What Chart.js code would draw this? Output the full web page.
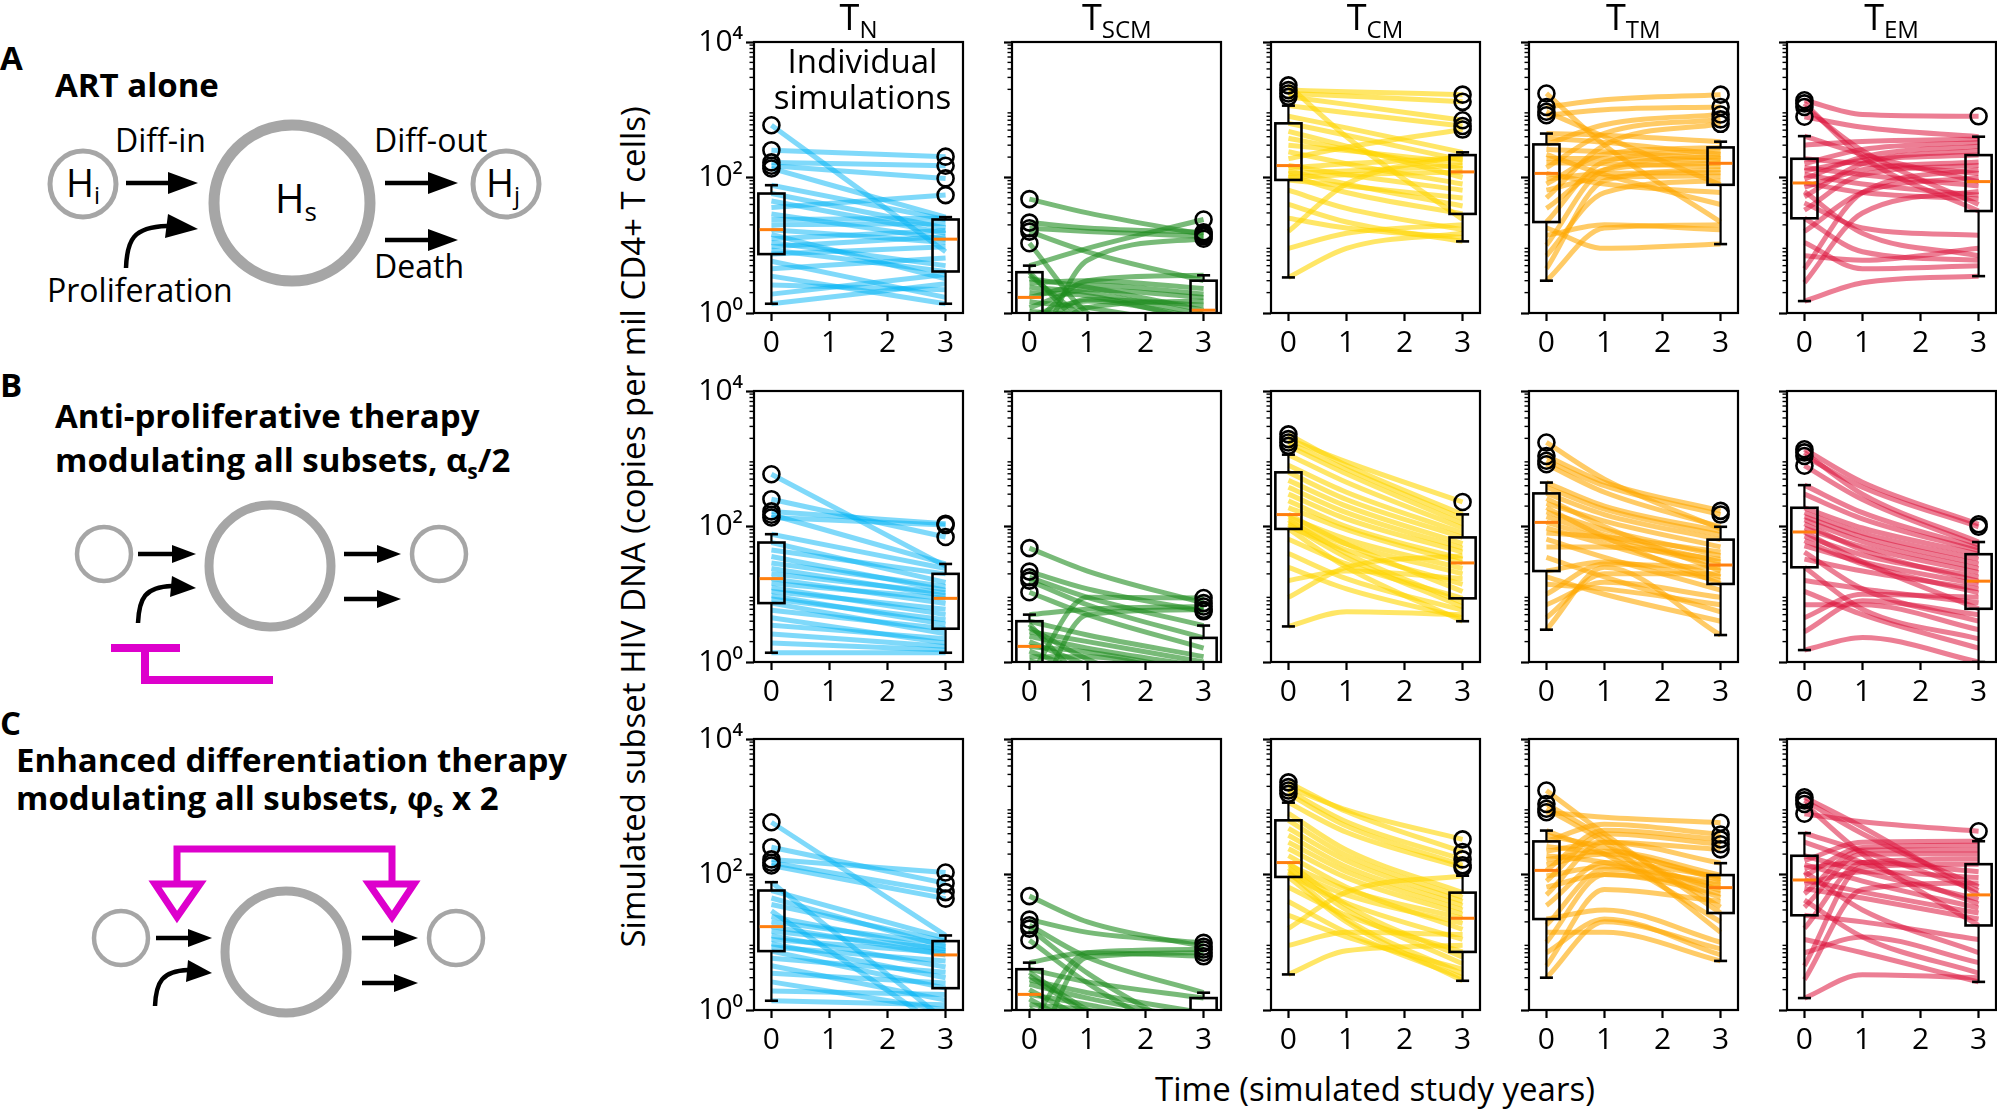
<!DOCTYPE html>
<html>
<head>
<meta charset="utf-8">
<script src="https://cdn.jsdelivr.net/npm/chart.js@4.4.1/dist/chart.umd.min.js"></script>
<style>
body { margin: 0; background: #fff; }
#page { position: relative; width: 1997px; height: 1112px; overflow: hidden; font-family: 'Open Sans', sans-serif; color: #000; }
#page canvas { position: absolute; }
.ptitle { position: absolute; text-align: center; font-size: 36px; line-height: 1; }
.ptitle sub { font-size: 24px; vertical-align: baseline; position: relative; top: 0.33em; }
.note { position: absolute; text-align: center; font-size: 33px; line-height: 36px; }
.axlabel { position: absolute; font-size: 33px; line-height: 1; white-space: nowrap; text-align: center; }
svg text { font-family: 'Open Sans', sans-serif; }
</style>
</head>
<body>
<div id="page">
<svg width="640" height="1112" style="position:absolute;left:0;top:0">
  <g fill="#000">
    <text x="0" y="70" font-size="33" font-weight="700">A</text>
    <text x="55" y="97" font-size="33" font-weight="700">ART alone</text>
    <text x="0" y="397" font-size="33" font-weight="700">B</text>
    <text x="55" y="428" font-size="33" font-weight="700">Anti-proliferative therapy</text>
    <text x="55" y="472" font-size="33" font-weight="700">modulating all subsets, α<tspan font-size="21" dy="7">s</tspan><tspan dy="-7">/2</tspan></text>
    <text x="0" y="735" font-size="33" font-weight="700">C</text>
    <text x="16" y="772" font-size="33" font-weight="700">Enhanced differentiation therapy</text>
    <text x="16" y="810" font-size="33" font-weight="700">modulating all subsets, φ<tspan font-size="21" dy="7">s</tspan><tspan dy="-7"> x 2</tspan></text>

    <text x="115" y="152" font-size="32">Diff-in</text>
    <text x="47" y="302" font-size="32">Proliferation</text>
    <text x="374" y="152" font-size="32">Diff-out</text>
    <text x="374" y="278" font-size="32">Death</text>
    <text x="83" y="197" font-size="38" text-anchor="middle">H<tspan font-size="24" dy="7">i</tspan></text>
    <text x="296" y="213" font-size="40" text-anchor="middle">H<tspan font-size="26" dy="8">s</tspan></text>
    <text x="503" y="197" font-size="38" text-anchor="middle">H<tspan font-size="24" dy="7">j</tspan></text>
  </g>
  <g fill="none" stroke="#a6a6a6">
    <circle cx="83" cy="184" r="33" stroke-width="5"/>
    <circle cx="292" cy="203" r="78" stroke-width="11"/>
    <circle cx="506" cy="184" r="33" stroke-width="5"/>
    <circle cx="104" cy="554" r="27" stroke-width="4.5"/>
    <circle cx="270" cy="566" r="61" stroke-width="9"/>
    <circle cx="439" cy="554" r="27" stroke-width="4.5"/>
    <circle cx="121" cy="938" r="27" stroke-width="4.5"/>
    <circle cx="286" cy="952" r="61" stroke-width="9"/>
    <circle cx="456" cy="938" r="27" stroke-width="4.5"/>
  </g>
  <g stroke="#000" stroke-width="4.5" fill="none">
    <line x1="126" y1="183" x2="172" y2="183"/>
    <path d="M126,268 C127,240 133,227 167,226"/>
    <line x1="385" y1="183" x2="430" y2="183"/>
    <line x1="385" y1="240" x2="430" y2="240"/>
    <line x1="138" y1="554" x2="176" y2="554"/>
    <path d="M138,623 C139,598 145,587 172,586"/>
    <line x1="344" y1="554" x2="380" y2="554"/>
    <line x1="344" y1="599" x2="380" y2="599"/>
    <line x1="156" y1="938" x2="190" y2="938"/>
    <path d="M155,1006 C156,982 162,971 188,970"/>
    <line x1="362" y1="938" x2="396" y2="938"/>
    <line x1="362" y1="983" x2="396" y2="983"/>
  </g>
  <g fill="#000">
    <polygon points="168,172 198,183 168,194"/>
    <polygon points="168,214 198,229 165,238"/>
    <polygon points="428,172 458,183 428,194"/>
    <polygon points="428,229 458,240 428,251"/>
    <polygon points="172,545 196,554 172,563"/>
    <polygon points="172,576 196,588 170,597"/>
    <polygon points="377,545 401,554 377,563"/>
    <polygon points="377,590 401,599 377,608"/>
    <polygon points="188,929 212,938 188,947"/>
    <polygon points="188,960 212,973 186,982"/>
    <polygon points="394,929 418,938 394,947"/>
    <polygon points="394,974 418,983 394,992"/>
  </g>
  <g fill="#dd00cc">
    <rect x="111" y="644" width="69" height="8"/>
    <rect x="141" y="648" width="8" height="36"/>
    <rect x="141" y="676" width="132" height="8"/>
  </g>
  <g fill="none" stroke="#dd00cc" stroke-width="7">
    <path d="M177,882 V849 H392 V882"/>
    <polygon points="155,884 200,884 177,917"/>
    <polygon points="369,884 414,884 392,917"/>
  </g>
</svg>
<div class="axlabel" style="left:1075px;top:1072px;width:600px;">Time (simulated study years)</div>
<div class="axlabel" style="left:217px;top:516px;width:830px;transform:rotate(-90deg);">Simulated subset HIV DNA (copies per mil CD4+ T cells)</div>
</div>

<script>
// years on the x axis, and the times at which each trajectory is sampled
const yearTicks = [0, 1, 2, 3];
const sampleYears = [0, 1, 3];

// t = 0 values (same virtual patients in all three scenarios)
const tnStart   = [1.37, 1.9, 2.6, 3.5, 4.5, 5.8, 7.4, 8.5, 9.5, 11, 12.5, 14.5, 17, 20, 24, 29, 36, 45, 58, 77, 136, 149, 167, 253, 590];
const tscmStart = [0.08, 0.15, 0.22, 0.3, 0.4, 0.5, 0.6, 0.75, 0.9, 1.05, 1.2, 1.45, 1.7, 2.0, 2.4, 2.8, 3.2, 3.6, 4.0, 5.0, 10.7, 15.9, 17.8, 21.6, 48];
const tcmStart  = [3.35, 9, 16, 25, 40, 65, 92, 100, 108, 115, 125, 138, 150, 190, 240, 300, 380, 480, 630, 800, 1150, 1550, 1740, 1950, 2290];
const ttmStart  = [3.0, 4.5, 7, 10, 14, 18, 22, 35, 50, 65, 80, 95, 115, 140, 165, 190, 220, 260, 308, 380, 445, 830, 935, 1100, 1740];
const temStart  = [1.5, 2.8, 4.5, 7, 11, 16, 25, 33, 42, 52, 62, 72, 83, 95, 110, 125, 140, 160, 189, 300, 408, 790, 1100, 1240, 1380];

// A = ART alone, B = anti-proliferative, C = enhanced differentiation
// Mid = value at year 1, End = value at year 3
const tnEndA = [2.7, 3.7, 2.2, 1.37, 6.5, 1.7, 9.5, 4.1, 13.5, 5, 16.5, 3.2, 11, 21, 25, 12.3, 55, 15, 18, 24, 26, 97, 149, 203, 8];
const tnEndB = [1.37, 1.5, 1.7, 2.2, 1.9, 3.1, 2.6, 4.2, 3.6, 6, 5, 8.7, 7.3, 10.5, 9.5, 13, 11.5, 20, 15, 24, 105, 28, 110, 70, 26];
const tnEndC = [1.2, 1.7, 1.0, 2.5, 1.4, 3.6, 2.1, 5.3, 3, 7, 4.3, 8, 6.5, 9.5, 7.5, 0.5, 10.4, 8.6, 11.5, 0.7, 44, 55, 107, 74, 12.6];

const tscmMidA = [0.1, 6, 0.6, 1.2, 0.3, 1.6, 3, 0.8, 1.5, 0.9, 2.2, 1.2, 2.6, 1.8, 2.0, 3.0, 2.4, 0.8, 0.6, 9, 1.0, 8, 16, 18, 30];
const tscmEndA = [0.05, 12.5, 0.3, 1.5, 0.1, 1.3, 3.6, 0.35, 0.85, 0.45, 1.7, 0.6, 1.9, 0.75, 0.95, 2.3, 1.1, 0.15, 0.2, 24, 0.25, 3.0, 13.5, 15.5, 14.5];
const tscmMidB = [0.06, 5, 0.3, 0.7, 0.2, 0.9, 9, 0.5, 0.9, 0.6, 1.2, 0.7, 1.4, 0.9, 1.6, 2.0, 1.1, 0.5, 2.5, 6, 5, 7, 9, 12, 22];
const tscmEndB = [0.03, 5.9, 0.1, 0.35, 0.05, 0.5, 8.8, 0.13, 0.42, 0.16, 0.6, 0.2, 0.7, 0.25, 0.85, 1.0, 0.3, 0.08, 1.2, 6.6, 1.6, 2.27, 3.45, 5.6, 7.4];
const tscmMidC = [0.05, 6, 0.1, 0.4, 0.15, 0.6, 7, 0.3, 0.8, 0.4, 1.0, 0.5, 1.2, 0.7, 1.5, 1.8, 0.9, 1.0, 2.6, 7, 2.5, 3.5, 6, 14, 20];
const tscmEndC = [0.02, 7.0, 0.04, 0.12, 0.03, 0.22, 7.8, 0.05, 0.3, 0.07, 0.45, 0.08, 0.55, 0.1, 0.7, 0.9, 0.15, 0.18, 1.5, 6.2, 0.26, 0.36, 1.8, 9.8, 8.6];

const tcmMidA = [9, 15, 80, 18, 22, 35, 75, 110, 60, 125, 80, 160, 110, 280, 160, 250, 260, 290, 420, 540, 900, 1200, 1600, 1850, 400];
const tcmEndA = [15, 20, 214, 13, 11.4, 17, 50, 121, 29, 150, 38, 195, 65, 510, 80, 165, 135, 100, 180, 235, 575, 700, 1310, 1670, 24];
const tcmMidB = [5.5, 25, 22, 12, 17, 28, 25, 45, 35, 55, 40, 65, 55, 90, 100, 130, 160, 200, 250, 320, 450, 600, 700, 900, 800];
const tcmEndB = [5, 37, 17, 4.5, 5.8, 8.7, 4.0, 14, 6.5, 20, 7.5, 24, 11, 29, 33, 42, 48, 56, 69, 80, 95, 110, 130, 230, 151];
const tcmMidC = [7.5, 14, 55, 12, 14, 25, 20, 38, 22, 50, 30, 60, 35, 65, 90, 110, 130, 160, 190, 230, 420, 520, 600, 900, 850];
const tcmEndC = [9, 13, 96, 4.0, 3.0, 7.2, 2.7, 11, 3.4, 19, 4.8, 22.6, 6.0, 15.5, 26, 30, 35, 40, 46, 54, 126, 137, 167, 330, 215];

const ttmMidA = [18, 90, 60, 130, 20, 9, 170, 130, 300, 100, 220, 115, 80, 450, 160, 190, 110, 240, 600, 330, 420, 1000, 400, 1400, 300];
const ttmEndA = [20, 130, 90, 205, 17, 10.4, 245, 162, 620, 105, 278, 118, 60, 720, 145, 175, 40, 190, 850, 220, 338, 1100, 78, 1670, 22];
const ttmMidB = [25, 20, 15, 28, 12, 10, 30, 18, 50, 35, 70, 55, 65, 75, 90, 70, 120, 100, 150, 180, 200, 320, 400, 450, 500];
const ttmEndB = [2.5, 20, 9, 24.5, 7, 4, 16, 5.5, 33, 11.5, 42, 18, 27, 30, 37, 14.2, 50, 22, 64, 75, 85, 99, 150, 170, 92];
const ttmMidC = [20, 60, 22, 100, 14, 120, 30, 150, 300, 100, 400, 130, 450, 200, 220, 150, 300, 200, 550, 250, 200, 700, 300, 350, 400];
const ttmEndC = [8, 40, 6.5, 64, 5.3, 76, 10, 93, 235, 52, 280, 70, 330, 88, 98, 46, 147, 58, 390, 82, 20, 580, 14, 33, 27];

const temMidA = [2.8, 30, 60, 6, 4.5, 60, 8, 110, 18, 160, 15, 130, 60, 200, 80, 180, 110, 260, 160, 340, 220, 550, 250, 200, 850];
const temEndA = [3.5, 62, 130, 9, 5, 100, 6, 150, 14, 250, 7, 170, 48, 290, 55, 214, 75, 330, 115, 370, 87, 400, 40, 32, 800];
const temMidB = [2.3, 8, 10, 7, 5, 12, 6, 22, 12, 30, 28, 38, 30, 50, 45, 60, 70, 80, 95, 130, 160, 250, 380, 300, 450];
const temEndB = [1.0, 5.0, 9, 3.0, 1.6, 7.5, 2.2, 12, 4.0, 14, 10.5, 18, 6.1, 21, 15.6, 24, 28, 33, 39, 44, 48, 53, 99, 59, 108];
const temMidC = [3.3, 60, 130, 12, 7, 150, 20, 200, 12, 230, 45, 110, 55, 250, 30, 150, 80, 300, 110, 150, 220, 600, 200, 400, 500];
const temEndC = [3.0, 75, 142, 5, 2.6, 170, 11, 200, 3.5, 230, 22, 90, 27, 270, 7, 110, 32, 310, 43, 37, 58, 435, 17.7, 66, 50];

const subsetNames = ['N', 'SCM', 'CM', 'TM', 'EM'];
const subsetColors = ['rgba(0,180,245,0.5)', 'rgba(30,140,30,0.6)', 'rgba(255,214,0,0.6)', 'rgba(255,168,0,0.6)', 'rgba(220,20,60,0.55)'];
const yTickLabels = { 1: '10⁰', 100: '10²', 10000: '10⁴' };

const columns = [
  { start: tnStart,   mids: [null, null, null],             ends: [tnEndA, tnEndB, tnEndC] },
  { start: tscmStart, mids: [tscmMidA, tscmMidB, tscmMidC], ends: [tscmEndA, tscmEndB, tscmEndC] },
  { start: tcmStart,  mids: [tcmMidA, tcmMidB, tcmMidC],    ends: [tcmEndA, tcmEndB, tcmEndC] },
  { start: ttmStart,  mids: [ttmMidA, ttmMidB, ttmMidC],    ends: [ttmEndA, ttmEndB, ttmEndC] },
  { start: temStart,  mids: [temMidA, temMidB, temMidC],    ends: [temEndA, temEndB, temEndC] }
];

// layout (pixels)
const PW = 209, PH = 271;
const PAD_L = 86, PAD_R = 12, PAD_T = 24, PAD_B = 55;
function panelLeft(c) { return 754 + 258.25 * c; }
function panelTop(r) { return 42 + 348.6 * r; }

Chart.defaults.font.family = "'Open Sans', 'DejaVu Sans', sans-serif";
Chart.defaults.color = '#000';

// numpy-style percentile, 1.5 IQR whiskers like matplotlib
function boxStats(values) {
  const s = values.slice().sort((a, b) => a - b);
  const pct = p => {
    const i = p * (s.length - 1), lo = Math.floor(i), hi = Math.ceil(i);
    return s[lo] + (s[hi] - s[lo]) * (i - lo);
  };
  const q1 = pct(0.25), med = pct(0.5), q3 = pct(0.75), iqr = q3 - q1;
  const inside = s.filter(v => v >= q1 - 1.5 * iqr && v <= q3 + 1.5 * iqr);
  return {
    q1, med, q3,
    lo: inside[0], hi: inside[inside.length - 1],
    out: s.filter(v => v < q1 - 1.5 * iqr || v > q3 + 1.5 * iqr)
  };
}

function seg(ctx, x1, y1, x2, y2) {
  ctx.beginPath(); ctx.moveTo(x1, y1); ctx.lineTo(x2, y2); ctx.stroke();
}

function drawBox(ctx, x, y, pos, st) {
  const xl = x.getPixelForValue(pos - 0.225), xr = x.getPixelForValue(pos + 0.225);
  const cl = x.getPixelForValue(pos - 0.1125), cr = x.getPixelForValue(pos + 0.1125);
  const xc = x.getPixelForValue(pos);
  const py = v => y.getPixelForValue(v);
  ctx.strokeStyle = '#000';
  ctx.lineWidth = 2.6;
  ctx.strokeRect(xl, py(st.q3), xr - xl, py(st.q1) - py(st.q3));
  ctx.lineWidth = 2.2;
  seg(ctx, xc, py(st.q3), xc, py(st.hi));
  seg(ctx, xc, py(st.q1), xc, py(st.lo));
  ctx.lineWidth = 2.6;
  seg(ctx, cl, py(st.hi), cr, py(st.hi));
  seg(ctx, cl, py(st.lo), cr, py(st.lo));
  ctx.strokeStyle = '#ff7f0e';
  ctx.lineWidth = 3;
  seg(ctx, xl + 1.3, py(st.med), xr - 1.3, py(st.med));
  ctx.strokeStyle = '#000';
  ctx.lineWidth = 2.6;
  st.out.forEach(v => {
    ctx.beginPath(); ctx.arc(xc, py(v), 8, 0, 2 * Math.PI); ctx.stroke();
  });
}

const boxPlugin = {
  id: 'boxes',
  afterDatasetsDraw(chart, args, opts) {
    const { ctx, chartArea: a, scales: { x, y } } = chart;
    ctx.save();
    ctx.beginPath();
    ctx.rect(a.left, a.top, a.right - a.left, a.bottom - a.top);
    ctx.clip();
    opts.groups.forEach(g => drawBox(ctx, x, y, g.pos, boxStats(g.values)));
    ctx.restore();
  },
  afterDraw(chart) {
    const { ctx, chartArea: a, scales: { y } } = chart;
    ctx.save();
    ctx.strokeStyle = '#000';
    ctx.lineWidth = 2.2;
    ctx.strokeRect(a.left, a.top, a.right - a.left, a.bottom - a.top);
    ctx.lineWidth = 1.4;
    for (let k = 0; k < 4; k++) {
      for (let m = 2; m <= 9; m++) {
        const yy = y.getPixelForValue(m * Math.pow(10, k));
        seg(ctx, a.left - 4.5, yy, a.left, yy);
      }
    }
    ctx.restore();
  }
};

const page = document.getElementById('page');

function makePanel(r, c) {
  const col = columns[c];
  const mid = col.mids[r], end = col.ends[r];
  const canvas = document.createElement('canvas');
  canvas.width = PAD_L + PW + PAD_R;
  canvas.height = PAD_T + PH + PAD_B;
  canvas.style.left = (panelLeft(c) - PAD_L) + 'px';
  canvas.style.top = (panelTop(r) - PAD_T) + 'px';
  page.appendChild(canvas);

  const datasets = col.start.map((s, i) => ({
    data: mid
      ? [{ x: sampleYears[0], y: s }, { x: sampleYears[1], y: mid[i] }, { x: sampleYears[2], y: end[i] }]
      : [{ x: sampleYears[0], y: s }, { x: sampleYears[2], y: end[i] }],
    borderColor: subsetColors[c],
    borderWidth: 5,
    pointRadius: 0,
    cubicInterpolationMode: 'monotone',
    fill: false,
    clip: 0
  }));

  new Chart(canvas, {
    type: 'line',
    data: { datasets },
    options: {
      responsive: false,
      animation: false,
      events: [],
      layout: { padding: { top: PAD_T, right: PAD_R, left: 0, bottom: 0 } },
      plugins: {
        legend: { display: false },
        tooltip: { enabled: false },
        boxes: { groups: [{ pos: 0, values: col.start }, { pos: 3, values: end }] }
      },
      scales: {
        x: {
          type: 'linear', min: -0.3, max: 3.3,
          afterBuildTicks: s => { s.ticks = yearTicks.map(v => ({ value: v })); },
          afterFit: s => { s.height = PAD_B; },
          ticks: { font: { size: 30 }, padding: 4, autoSkip: false, maxRotation: 0, callback: v => String(v) },
          grid: { display: true, drawOnChartArea: false, drawTicks: true, tickLength: 8, tickWidth: 2.2, tickColor: '#000' },
          border: { display: false }
        },
        y: {
          type: 'logarithmic', min: 1, max: 10000,
          afterBuildTicks: s => { s.ticks = [1, 100, 10000].map(v => ({ value: v })); },
          afterFit: s => { s.width = PAD_L; },
          ticks: { font: { size: 30 }, padding: 3, autoSkip: false, callback: v => (c === 0 ? yTickLabels[v] : '') },
          grid: { display: true, drawOnChartArea: false, drawTicks: true, tickLength: 8, tickWidth: 2.2, tickColor: '#000' },
          border: { display: false }
        }
      }
    },
    plugins: [boxPlugin]
  });
}

for (let r = 0; r < 3; r++) {
  for (let c = 0; c < 5; c++) makePanel(r, c);
}

// column titles
subsetNames.forEach((n, c) => {
  const d = document.createElement('div');
  d.className = 'ptitle';
  d.style.left = panelLeft(c) + 'px';
  d.style.width = PW + 'px';
  d.style.top = '-1px';
  d.innerHTML = 'T<sub>' + n + '</sub>';
  page.appendChild(d);
});

const note = document.createElement('div');
note.className = 'note';
note.style.left = (panelLeft(0) + 4) + 'px';
note.style.width = PW + 'px';
note.style.top = '43px';
note.innerHTML = 'Individual<br>simulations';
page.appendChild(note);
</script>
</body>
</html>
